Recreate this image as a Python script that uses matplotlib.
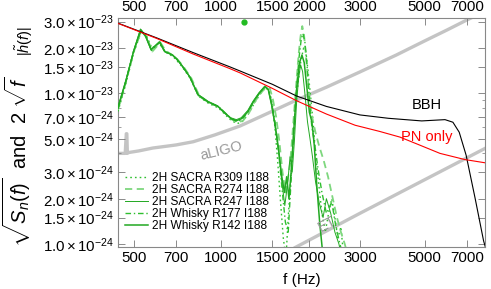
import matplotlib
matplotlib.use("Agg")
import matplotlib.pyplot as plt
from matplotlib.ticker import FixedLocator, FixedFormatter, LogLocator, NullFormatter, NullLocator
import numpy as np

plt.rcParams['font.family'] = ['Liberation Sans', 'DejaVu Sans']
plt.rcParams['mathtext.fontset'] = 'custom'
plt.rcParams['mathtext.rm'] = 'Liberation Sans'
plt.rcParams['mathtext.it'] = 'Liberation Sans:italic'
plt.rcParams['mathtext.bf'] = 'Liberation Sans:bold'

SCALE = 1e-24

# ---- data (values in units of 1e-24) ----
bbh_f = [442, 600, 800, 1073, 1161, 1500, 1820, 2300, 3000, 3755, 4890, 5880, 6260, 6580, 6950, 7460, 7980, 8100]
bbh_v = [29.3, 23.4, 18.7, 15.0, 14.1, 11.5, 9.6, 8.2, 7.2, 6.84, 6.57, 6.70, 6.44, 5.53, 3.89, 2.02, 1.05, 0.95]

pn_f = [442, 600, 800, 1073, 1161, 1500, 1820, 2300, 2887, 3500, 4117, 4800, 5650, 6877, 8100]
pn_v = [29.2, 23.2, 18.3, 14.6, 13.7, 10.8, 8.93, 7.3, 6.15, 5.6, 5.13, 4.55, 4.0, 3.64, 3.46]

ligo_f = [442, 468, 472, 474, 476, 480, 520, 582, 700, 802, 950, 1161, 1450, 1820, 2300, 3000, 4000, 5000, 6000, 7000, 7300]
ligo_v = [4.0, 4.0, 5.4, 5.4, 4.0, 4.05, 4.15, 4.34, 4.55, 4.78, 5.3, 6.08, 7.4, 9.06, 11.0, 13.9, 18.0, 22.3, 26.5, 30.8, 32.0]

et_f = [1800, 3000, 5000, 8100]
et_v = [0.95, 1.6, 2.67, 4.33]

s309_f = [442, 470, 500, 530, 552, 578, 612, 645, 685, 705, 735, 785, 835, 905, 980, 1035, 1085, 1135, 1180, 1240, 1295, 1355, 1420, 1460, 1495, 1530, 1565, 1600, 1635, 1670, 1700, 1730, 1765, 1800, 1840, 1880, 1920, 1955, 1990, 2030, 2070, 2110, 2160, 2220, 2280, 2340, 2400, 2460, 2520, 2580, 2640]
s309_v = [7.6, 11.5, 18.5, 25.5, 24.5, 20.0, 21.5, 18.8, 17.5, 16.5, 15.0, 12.5, 9.6, 8.6, 8.0, 7.2, 6.6, 6.3, 6.5, 7.3, 8.5, 9.8, 10.9, 10.5, 8.8, 6.0, 3.5, 1.9, 1.1, 0.8, 1.5, 2.5, 4.5, 8.0, 12.0, 16.5, 20.0, 19.0, 14.0, 9.5, 6.5, 4.0, 2.6, 1.6, 1.2, 1.6, 2.0, 1.5, 1.1, 1.3, 0.8]

s274_f = [442, 470, 500, 532, 555, 580, 618, 645, 685, 708, 740, 790, 840, 910, 985, 1040, 1090, 1140, 1190, 1250, 1300, 1360, 1425, 1470, 1505, 1545, 1585, 1625, 1665, 1700, 1730, 1760, 1790, 1820, 1850, 1875, 1900, 1925, 1955, 1990, 2030, 2070, 2110, 2170, 2250, 2330, 2420, 2500, 2580, 2660, 2720]
s274_v = [7.8, 11.8, 18.8, 26.0, 23.5, 19.0, 21.8, 19.2, 17.8, 16.8, 15.2, 12.6, 9.7, 8.7, 8.1, 7.3, 6.7, 6.4, 6.6, 7.5, 8.7, 9.9, 11.0, 10.8, 9.2, 7.0, 4.8, 3.0, 2.2, 2.8, 3.6, 5.5, 8.5, 13.0, 19.0, 24.0, 28.0, 25.0, 18.0, 12.0, 8.0, 6.5, 5.5, 4.5, 3.6, 2.8, 2.0, 1.5, 1.2, 1.0, 0.85]

s247_f = [442, 470, 500, 528, 548, 573, 612, 638, 678, 700, 728, 778, 830, 898, 970, 1025, 1078, 1128, 1172, 1234, 1288, 1348, 1412, 1450, 1488, 1528, 1570, 1612, 1655, 1695, 1725, 1755, 1785, 1815, 1845, 1875, 1905, 1940, 1980, 2020, 2060, 2110, 2170, 2240, 2300, 2380, 2460, 2540, 2600]
s247_v = [8.2, 12.2, 19.2, 26.8, 24.2, 19.6, 22.0, 19.0, 18.1, 17.2, 15.6, 13.0, 9.9, 8.9, 8.3, 7.5, 6.9, 6.7, 6.9, 7.7, 8.9, 10.1, 11.2, 10.7, 8.5, 6.3, 4.4, 2.7, 1.8, 2.6, 3.8, 3.0, 4.8, 8.5, 12.5, 15.5, 14.0, 10.0, 6.5, 5.0, 3.8, 2.6, 1.9, 1.5, 2.0, 1.6, 1.2, 1.0, 0.8]

w177_f = [442, 470, 500, 530, 552, 576, 614, 642, 682, 704, 733, 782, 834, 902, 978, 1032, 1084, 1134, 1178, 1240, 1292, 1352, 1418, 1455, 1493, 1535, 1578, 1620, 1662, 1700, 1730, 1770, 1810, 1850, 1885, 1910, 1940, 1975, 2010, 2050, 2100, 2150, 2220, 2300, 2400, 2480, 2560, 2640]
w177_v = [7.9, 12.0, 19.0, 26.2, 24.0, 19.3, 21.9, 18.9, 17.9, 16.9, 15.3, 12.8, 9.7, 8.7, 8.2, 7.4, 6.8, 6.5, 6.7, 7.6, 8.8, 10.0, 11.1, 10.6, 8.6, 6.3, 4.0, 2.3, 1.4, 1.2, 2.2, 5.0, 10.0, 17.0, 23.0, 25.0, 22.0, 15.0, 9.0, 6.0, 4.5, 3.2, 2.2, 1.6, 1.9, 1.3, 1.0, 0.8]

w142_f = [442, 470, 500, 529, 550, 575, 615, 640, 680, 702, 730, 780, 833, 900, 975, 1030, 1082, 1130, 1175, 1237, 1290, 1350, 1415, 1452, 1491, 1532, 1574, 1616, 1650, 1680, 1710, 1740, 1780, 1820, 1860, 1895, 1930, 1970, 2010, 2050, 2090, 2130, 2180, 2230]
w142_v = [8.0, 12.0, 19.0, 26.5, 24.0, 19.5, 22.0, 19.0, 18.0, 17.0, 15.5, 12.9, 9.8, 8.8, 8.2, 7.4, 6.8, 6.6, 6.8, 7.6, 8.8, 10.0, 11.1, 10.6, 8.4, 6.2, 4.3, 2.8, 2.2, 2.8, 2.0, 3.0, 6.0, 11.0, 16.0, 18.0, 16.0, 11.0, 7.5, 6.5, 4.5, 2.5, 1.4, 0.9]

dot_f = [1200]
dot_v = [30.0]

xticks = [500, 700, 1000, 1500, 2000, 3000, 5000, 7000]
xtick_labels = ['500', '700', '1000', '1500', '2000', '3000', '5000', '7000']
yticks = [1.0, 1.5, 2.0, 3.0, 5.0, 7.0, 10.0, 15.0, 20.0, 30.0]
ytick_labels = [r'$1.0\times10^{-24}$', r'$1.5\times10^{-24}$', r'$2.0\times10^{-24}$',
                r'$3.0\times10^{-24}$', r'$5.0\times10^{-24}$', r'$7.0\times10^{-24}$',
                r'$1.0\times10^{-23}$', r'$1.5\times10^{-23}$', r'$2.0\times10^{-23}$',
                r'$3.0\times10^{-23}$']

legend_labels = ['2H SACRA R309 I188', '2H SACRA R274 I188', '2H SACRA R247 I188',
                 '2H Whisky R177 I188', '2H Whisky R142 I188']

# ---- figure ----
W, H = 491, 289
fig = plt.figure(figsize=(W/100, H/100), dpi=100)
ax = fig.add_axes([118/W, 1-246.7/H, (485-118)/W, (246.7-18)/H])
ax.set_xscale('log')
ax.set_yscale('log')

def sc(v):
    return np.asarray(v) * SCALE

grey = '#c4c4c4'
ax.plot(ligo_f, sc(ligo_v), color=grey, lw=2.4, solid_capstyle='butt', zorder=1)
ax.plot(et_f, sc(et_v), color=grey, lw=2.4, zorder=1)

g1 = '#2fbf2f'
g2 = '#22a822'
g3 = '#7ed77e'
l1, = ax.plot(s309_f, sc(s309_v), color=g1, lw=1.0, ls=(0, (1.2, 2.2)), zorder=3)
l2, = ax.plot(s274_f, sc(s274_v), color=g3, lw=1.3, ls=(0, (4, 2.5)), zorder=3)
l3, = ax.plot(s247_f, sc(s247_v), color=g2, lw=0.7, ls='-', zorder=3)
l4, = ax.plot(w177_f, sc(w177_v), color=g1, lw=1.0, ls=(0, (4, 2, 1, 2)), zorder=3)
l5, = ax.plot(w142_f, sc(w142_v), color=g2, lw=1.1, ls='-', zorder=3)

ax.plot(bbh_f, sc(bbh_v), color='black', lw=0.8, zorder=4)
ax.plot(pn_f, sc(pn_v), color='red', lw=0.8, zorder=4)
ax.plot(dot_f, sc(dot_v), 'o', color='#22bb22', ms=3.5, zorder=5, clip_on=False)

ax.set_xlim(442, 8070)
ax.set_ylim(0.96e-24, 3.17e-23)

ax.xaxis.set_major_locator(FixedLocator(xticks))
ax.xaxis.set_major_formatter(FixedFormatter(xtick_labels))
ax.xaxis.set_minor_locator(NullLocator())
ax.yaxis.set_major_locator(FixedLocator([v * SCALE for v in yticks]))
ax.yaxis.set_major_formatter(FixedFormatter(ytick_labels))
ax.yaxis.set_minor_locator(LogLocator(base=10, subs=np.arange(1, 10) * 1.0, numticks=20))
ax.yaxis.set_minor_formatter(NullFormatter())

ax.tick_params(which='both', direction='in', top=True, right=True, labeltop=True,
               labelsize=10.8, colors='black', pad=3)
ax.tick_params(which='major', length=5, width=0.6, color='#777777')
ax.tick_params(which='minor', length=2.5, width=0.5, color='#777777')
for s in ax.spines.values():
    s.set_color('#888888')
    s.set_linewidth(0.8)

ax.set_xlabel('f (Hz)', fontsize=11, labelpad=6)

# y label: main part plus a smaller |h~(f)| part, as in the original
fig.text(17/W, 1-247/H, r'$\sqrt{S_n(f)}$  and  $2\ \sqrt{f}$',
         rotation=90, ha='center', va='bottom', fontsize=14.5)
fig.text(24/W, 1-26/H, r'$|\tilde{h}(f)|$',
         rotation=90, ha='center', va='top', fontsize=10.5)

ax.text(5100, 8.4e-24, 'BBH', color='black', fontsize=10.5, ha='center', va='center')
ax.text(5100, 5.14e-24, 'PN only', color='red', fontsize=10.5, ha='center', va='center')
ax.text(1000, 4.15e-24, 'aLIGO', color='#999999', fontsize=10.5, ha='center', va='center', rotation=14)
ax.text(2310, 1.36e-24, 'ET', color='#999999', fontsize=10.5, ha='center', va='center', rotation=28)

ax.legend([l1, l2, l3, l4, l5], legend_labels, loc='lower left', frameon=False,
          fontsize=8.6, handlelength=1.9, handletextpad=0.4, labelspacing=0.0,
          borderaxespad=0.18, bbox_to_anchor=(0.0, 0.035))

fig.savefig('out.png', dpi=100)
